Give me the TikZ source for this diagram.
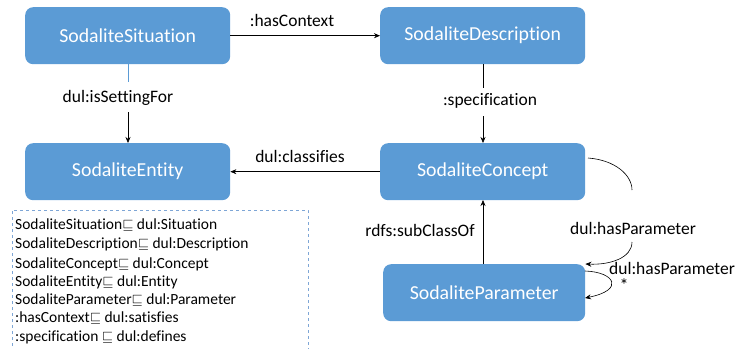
\documentclass[tikz,border=0pt]{standalone}
\usepackage{fontspec}
\setmainfont[Ligatures={NoCommon,NoRare,NoDiscretionary}]{Carlito}
\usetikzlibrary{arrows.meta}
\definecolor{boxblue}{HTML}{5B9BD5}
\definecolor{dashblue}{HTML}{7EA6D6}
\begin{document}
\begin{tikzpicture}[x=1pt,y=-1pt,
  cls/.style={draw=none,fill=boxblue,rounded corners=8pt,text=white,font=\fontsize{19.8}{22}\selectfont,inner sep=0pt,anchor=north west},
  lbl/.style={font=\fontsize{17.5}{19}\selectfont,inner sep=1pt},
  leg/.style={font=\fontsize{15.5}{17}\selectfont,inner sep=0pt,anchor=west},
  arr/.style={-{Stealth[length=6pt,width=5pt]},line width=0.6pt}]
\useasboundingbox (0,0) rectangle (735,348);
\node[cls,minimum width=205pt,minimum height=57pt] (sit) at (25,7) {SodaliteSituation};
\node[cls,minimum width=205pt,minimum height=57pt] (ent) at (25,143) {SodaliteEntity};
\node[cls,minimum width=205pt,minimum height=57pt] (desc) at (380,7) {SodaliteDescription};
\node[cls,minimum width=205pt,minimum height=57pt] (con) at (380,143) {SodaliteConcept};
\node[cls,minimum width=202pt,minimum height=57pt] (par) at (383,264) {SodaliteParameter};
% hasContext
\draw[arr] (sit.east) -- (desc.west);
\node[lbl] (lhc) at (292,20) {:hasContext};
% isSettingFor
\node[lbl] (lis) at (118,98) {dul:isSettingFor};
\draw[boxblue,line width=0.6pt] (128,64) -- (128,82);
\draw[arr] (128,112) -- (128,143);
% specification
\node[lbl] (lsp) at (490,101) {:specification};
\draw[line width=0.6pt] (483,64) -- (483,88);
\draw[arr] (483,116) -- (483,143);
% classifies
\draw[arr] (con.west) -- (ent.east);
\node[lbl] (lcl) at (300,156) {dul:classifies};
% subClassOf
\draw[arr] (483,264) -- (483,200);
\node[lbl] (lsc) at (420,230) {rdfs:subClassOf};
% hasParameter from concept
\coordinate (c1) at (588,158);
\coordinate (c2) at (632,190);
\draw[line width=0.6pt] (c1) .. controls (615,160) and (632,175) .. (c2);
\node[lbl] (lhp) at (633,228) {dul:hasParameter};
\coordinate (c3) at (632,242);
\draw[arr] (c3) .. controls (632,258) and (610,265) .. (par.north east);
% self loop
\draw[arr] (585,271) .. controls (615,272) and (625,290) .. (585,298);
\node[lbl] (lhp2) at (672,268) {dul:hasParameter};
\node[lbl,font=\fontsize{18}{20}\selectfont] (star) at (624,285) {*};
% legend box
\draw[dashblue,dashed,line width=0.6pt] (12,352) -- (12,210) -- (308,210) -- (308,352);
\node[leg] (l1) at (15,225) {SodaliteSituation$\sqsubseteq$ dul:Situation};
\node[leg] (l2) at (15,244) {SodaliteDescription$\sqsubseteq$ dul:Description};
\node[leg] (l3) at (15,264) {SodaliteConcept$\sqsubseteq$ dul:Concept};
\node[leg] (l4) at (15,282) {SodaliteEntity$\sqsubseteq$ dul:Entity};
\node[leg] (l5) at (15,300) {SodaliteParameter$\sqsubseteq$ dul:Parameter};
\node[leg] (l6) at (15,318) {:hasContext$\sqsubseteq$ dul:satisfies};
\node[leg] (l7) at (15,337) {:specification $\sqsubseteq$ dul:defines};
\end{tikzpicture}
\end{document}
